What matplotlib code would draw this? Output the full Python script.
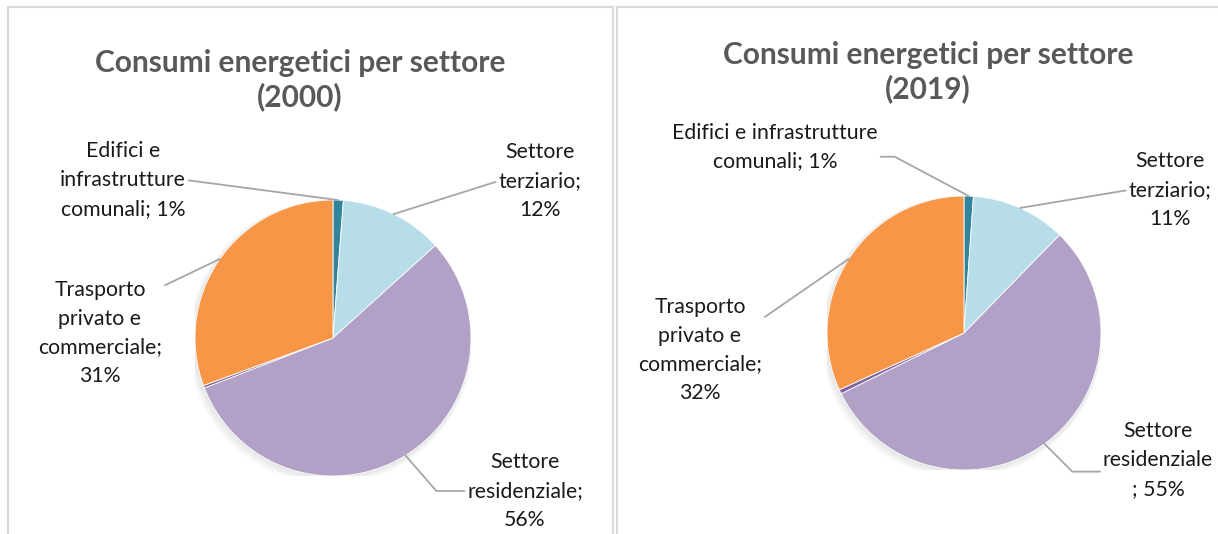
import numpy as np
import matplotlib
matplotlib.use("Agg")
import matplotlib.pyplot as plt
from matplotlib.lines import Line2D
from matplotlib.patches import Circle

plt.rcParams['font.family'] = ['Lato', 'DejaVu Sans']

# data
sectors = ["Edifici e infrastrutture comunali", "Settore terziario",
           "Settore residenziale", "Altro", "Trasporto privato e commerciale"]
values_2000 = [1.2, 12.1, 55.8, 0.3, 30.6]
values_2019 = [1.1, 11.2, 55.4, 0.5, 31.8]
labels_2000 = ["Edifici e\ninfrastrutture\ncomunali; 1%", "Settore\nterziario;\n12%",
               "Settore\nresidenziale;\n56%", "", "Trasporto\nprivato e\ncommerciale;\n31%"]
labels_2019 = ["Edifici e infrastrutture\ncomunali; 1%", "Settore\nterziario;\n11%",
               "Settore\nresidenziale\n; 55%", "", "Trasporto\nprivato e\ncommerciale;\n32%"]
colors = ["#31849B", "#B7DEE8", "#B2A1C7", "#8064A2", "#F79646"]

W, H = 1218, 534
fig = plt.figure(figsize=(W / 100, H / 100), dpi=100)
fig.patch.set_facecolor("white")


def px_ax(cx, cy, r):
    # axes box around a pie centre given in image pixels
    return [(cx - r) / W, (H - cy - r) / H, 2 * r / W, 2 * r / H]


def draw_pie(rect, values, labels, title, title_xy, label_pos, relpos, conn):
    ax = fig.add_axes(rect)
    # soft shadow
    for i in range(6):
        ax.add_patch(Circle((-0.004 * i, -0.006 * i), 1 + 0.006 * i, color="black",
                            alpha=0.018, lw=0, zorder=0))
    wedges, _ = ax.pie(values, colors=colors, startangle=90, counterclock=False,
                       radius=1, wedgeprops=dict(edgecolor="white", linewidth=0.6))
    ax.set_xlim(-1, 1)
    ax.set_ylim(-1, 1)
    ax.axis("off")
    for i, w in enumerate(wedges):
        if labels[i] == "":
            continue
        ang = np.deg2rad((w.theta1 + w.theta2) / 2)
        tx, ty = label_pos[i]
        ax.annotate(labels[i], xy=(np.cos(ang), np.sin(ang)), xycoords="data",
                    xytext=(tx, H - ty), textcoords="figure pixels",
                    ha="center", va="center", fontsize=15.3, color="#1a1a1a",
                    linespacing=1.55, annotation_clip=False,
                    arrowprops=dict(arrowstyle="-", color="#A6A6A6", lw=1.3,
                                    relpos=relpos[i], connectionstyle=conn[i],
                                    shrinkA=0, shrinkB=0))
    fig.text(title_xy[0] / W, 1 - title_xy[1] / H, title, ha="center", va="center",
             fontsize=21.5, fontweight="bold", color="#595959", linespacing=1.25)
    return ax


draw_pie(px_ax(333, 338, 138), values_2000, labels_2000,
         "Consumi energetici per settore\n(2000)", (300, 80),
         {0: (123, 180), 1: (540, 181), 2: (525, 491), 4: (100, 333)},
         {0: (1, 0.5), 1: (0, 0.5), 2: (0, 0.5), 4: (0.9, 0.88)},
         {0: "arc3", 1: "arc3", 2: "angle,angleA=0,angleB=131", 4: "arc3"})

draw_pie(px_ax(964, 333, 137), values_2019, labels_2019,
         "Consumi energetici per settore\n(2019)", (928, 72),
         {0: (775, 147), 1: (1170, 190), 2: (1158, 460), 4: (700, 350)},
         {0: (1, 0.3), 1: (0, 0.5), 2: (0, 0.35), 4: (0.96, 0.76)},
         {0: "angle,angleA=0,angleB=152", 1: "arc3", 2: "angle,angleA=0,angleB=135",
          4: "arc3"})

# chart area borders
bc = "#D9D9D9"
for xs, ys in [((8, 8), (7, H)), ((8, 613), (7, 7)), ((613, 613), (7, H)),
               ((617, 617), (7, H)), ((617, W), (7, 7))]:
    fig.add_artist(Line2D([x / W for x in xs], [1 - y / H for y in ys],
                          transform=fig.transFigure, color=bc, lw=1.5))

fig.savefig("out.png", dpi=100, facecolor="white")
